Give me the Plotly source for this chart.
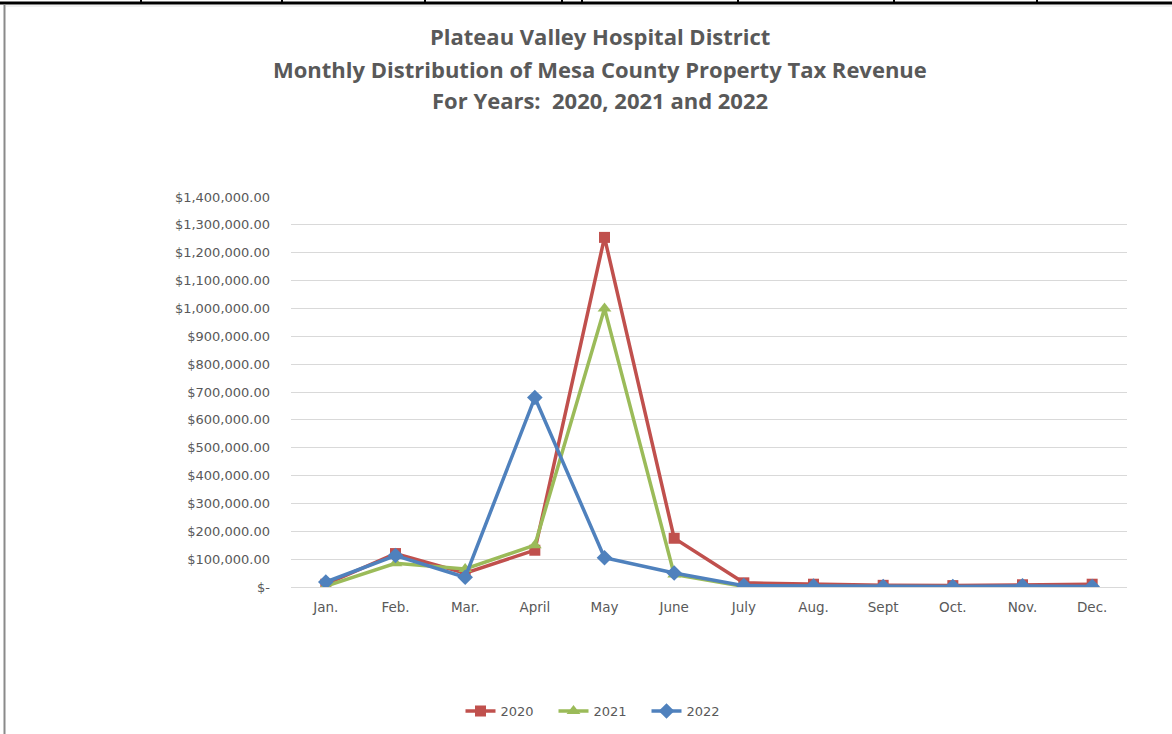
import plotly.graph_objects as go

months = ["Jan.", "Feb.", "Mar.", "April", "May", "June", "July", "Aug.", "Sept", "Oct.", "Nov.", "Dec."]
rev_2020 = [10000, 120000, 50000, 132000, 1255000, 175000, 15000, 10000, 6000, 5000, 8000, 10000]
rev_2021 = [3000, 85000, 65000, 150000, 1000000, 45000, 2000, 1500, 1000, 1000, 1500, 1000]
rev_2022 = [18000, 113000, 35000, 680000, 105000, 50000, 5000, 3000, 2000, 2000, 4000, 2000]

y_tick_vals = [0, 100000, 200000, 300000, 400000, 500000, 600000, 700000,
               800000, 900000, 1000000, 1100000, 1200000, 1300000, 1400000]
y_tick_text = ["$-", "$100,000.00", "$200,000.00", "$300,000.00", "$400,000.00",
               "$500,000.00", "$600,000.00", "$700,000.00", "$800,000.00",
               "$900,000.00", "$1,000,000.00", "$1,100,000.00", "$1,200,000.00",
               "$1,300,000.00", "$1,400,000.00"]

title_lines = ["Plateau Valley Hospital District",
               "Monthly Distribution of Mesa County Property Tax Revenue",
               "For Years:  2020, 2021 and 2022"]

W, H = 1172, 734
L, R, T, B = 291, 1127, 197, 587


def px(x):
    return (x - L) / (R - L)


def py(y):
    return (B - y) / (B - T)


TXT = "#595959"
TICKFONT = "DejaVu Sans"
TITLEFONT = "Open Sans"

fig = go.Figure()
series = [
    ("2020", rev_2020, "#c0504d", "square", 11),
    ("2021", rev_2021, "#9bbb59", "triangle-up", 12),
    ("2022", rev_2022, "#4f81bd", "diamond", 12),
]
for name, vals, col, sym, sz in series:
    fig.add_trace(go.Scatter(
        x=months, y=vals, name=name, mode="lines+markers",
        line=dict(color=col, width=3.5),
        marker=dict(symbol=sym, size=sz, color=col),
    ))

fig.update_layout(
    width=W, height=H,
    margin=dict(l=L, r=W - R, t=T, b=H - B, pad=0, autoexpand=False),
    paper_bgcolor="white", plot_bgcolor="white",
    font=dict(family=TICKFONT, color=TXT, size=12),
    showlegend=True,
    legend=dict(orientation="h", xref="container", yref="container",
                x=600 / W, xanchor="center", y=1 - 711 / H, yanchor="middle",
                font=dict(size=13, color=TXT, family=TICKFONT), traceorder="normal",
                entrywidth=48),
    xaxis=dict(type="category", range=[-0.5, 11.5], showgrid=False,
               showline=False, zeroline=False, ticks="",
               tickfont=dict(size=13.5, color=TXT, family=TICKFONT),
               ticklabelstandoff=10, fixedrange=True),
    yaxis=dict(range=[0, 1400000], tickvals=y_tick_vals, ticktext=y_tick_text,
               showgrid=True, gridcolor="#d9d9d9", gridwidth=1,
               zeroline=True, zerolinecolor="#d9d9d9", zerolinewidth=1,
               showline=False, ticks="",
               tickfont=dict(size=13, color=TXT, family=TICKFONT),
               ticklabelstandoff=20, fixedrange=True),
    hovermode=False,
)

for text, ypix in zip(title_lines, [36, 69, 100]):
    fig.add_annotation(text="<b>" + text + "</b>", x=px(600), y=py(ypix),
                       xref="paper", yref="paper", showarrow=False,
                       xanchor="center", yanchor="middle",
                       font=dict(size=22, color=TXT, family=TITLEFONT))

# page/table frame around the chart
shapes = []
shapes.append(dict(type="line", xref="paper", yref="paper",
                   x0=px(0), x1=px(W), y0=py(3), y1=py(3),
                   line=dict(color="black", width=3)))
for xt in [141, 282, 425, 562, 582, 738, 894, 1037]:
    shapes.append(dict(type="line", xref="paper", yref="paper",
                       x0=px(xt), x1=px(xt), y0=py(-1), y1=py(3),
                       line=dict(color="black", width=2)))
shapes.append(dict(type="line", xref="paper", yref="paper",
                   x0=px(4.5), x1=px(4.5), y0=py(4), y1=py(H + 10),
                   line=dict(color="#8a8a8a", width=2)))
shapes.append(dict(type="line", xref="paper", yref="paper",
                   x0=px(6), x1=px(W), y0=py(6), y1=py(6),
                   line=dict(color="#e0e0e0", width=1)))
fig.update_layout(shapes=shapes)

fig.write_html("out.html", config={"displayModeBar": False},
               post_script="document.body.style.margin='0';document.body.style.overflow='hidden';")
